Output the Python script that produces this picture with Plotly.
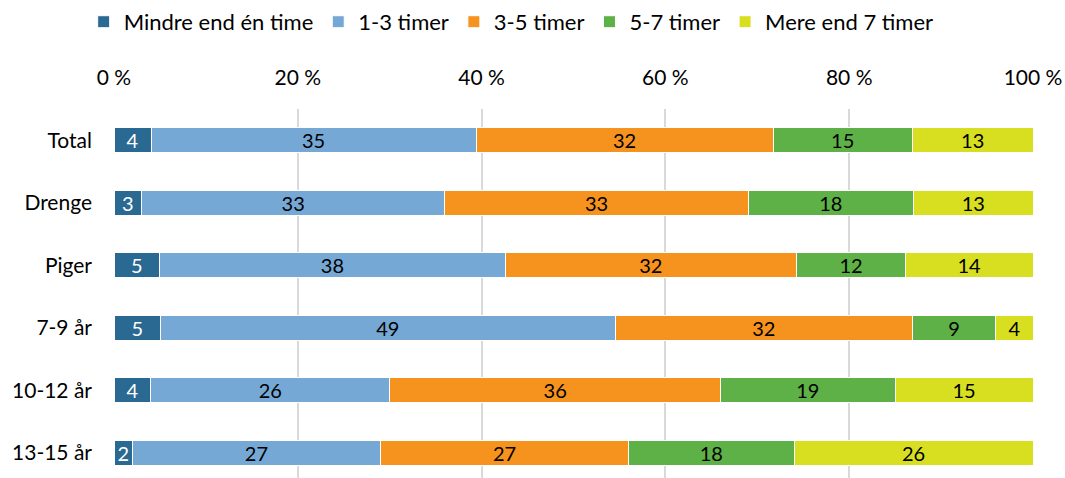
import plotly.graph_objects as go

categories = ["Total", "Drenge", "Piger", "7-9 år", "10-12 år", "13-15 år"]
series_names = ["Mindre end én time", "1-3 timer", "3-5 timer", "5-7 timer", "Mere end 7 timer"]
v_lt1 = [4, 3, 5, 5, 4, 2]
v_1_3 = [35, 33, 38, 49, 26, 27]
v_3_5 = [32, 33, 32, 32, 36, 27]
v_5_7 = [15, 18, 12, 9, 19, 18]
v_gt7 = [13, 13, 14, 4, 15, 26]
series_values = [v_lt1, v_1_3, v_3_5, v_5_7, v_gt7]
colors = ["#296992", "#76A8D6", "#F6921E", "#5DB146", "#D8DF20"]
text_colors = ["white", "black", "black", "black", "black"]
tick_vals = [0, 20, 40, 60, 80, 100]
tick_text = ["0 %", "20 %", "40 %", "60 %", "80 %", "100 %"]

FONT = "Lato, Carlito, Calibri, sans-serif"

fig = go.Figure()
for name, vals, col, tc in zip(series_names, series_values, colors, text_colors):
    fig.add_trace(go.Bar(
        y=categories, x=vals, name=name, orientation="h",
        marker=dict(color=col, line=dict(color="white", width=1)),
        text=[str(v) for v in vals], textposition="inside",
        insidetextanchor="middle", textangle=0, constraintext="none",
        textfont=dict(color=tc, size=20, family=FONT),
        hoverinfo="skip",
    ))

fig.update_layout(
    barmode="stack", barnorm="percent", bargap=0.6,
    width=1065, height=478,
    margin=dict(l=114, r=32, t=109, b=0, autoexpand=False),
    paper_bgcolor="white", plot_bgcolor="white",
    font=dict(family=FONT, size=21, color="black"),
    legend=dict(orientation="h", x=-0.033, xanchor="left", y=1.236, yanchor="middle",
                font=dict(size=22, family=FONT), traceorder="normal",
                itemwidth=30, tracegroupgap=0),
    showlegend=True,
    uniformtext=dict(mode=False),
)
fig.update_xaxes(range=[0, 100], side="top", tickvals=tick_vals, ticktext=tick_text,
                 showgrid=True, gridcolor="#D9D9D9", gridwidth=2, zeroline=False,
                 showline=False, ticks="", ticklabelstandoff=19, automargin=False,
                 tickfont=dict(size=21, family=FONT))
fig.update_yaxes(categoryorder="array", categoryarray=categories,
                 range=[5.4, -0.5], showgrid=False, zeroline=False, showline=False,
                 ticks="", ticklabelstandoff=21, automargin=False,
                 tickfont=dict(size=21, family=FONT))

fig.write_html("out.html", config={"displayModeBar": False},
               post_script="document.body.style.margin='0';document.body.style.overflow='hidden';")
